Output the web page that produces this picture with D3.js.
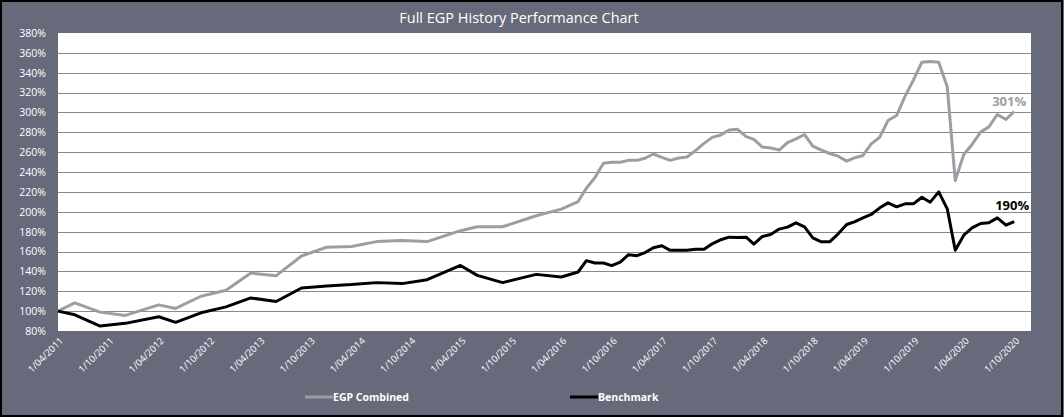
<!DOCTYPE html>
<html>
<head>
<meta charset="utf-8">
<script src="https://cdn.jsdelivr.net/npm/d3@7"></script>
<style>
  body { margin: 0; background: #676a7b; }
  svg { display: block; }
  text { font-family: "Open Sans", sans-serif; }
</style>
</head>
<body>
<div class="chart"></div>
<script>
// month of each observation (quarterly early on, monthly from mid 2016)
var dates = [
  "2011-04", "2011-06", "2011-09", "2011-12", "2012-04", "2012-06", "2012-09", "2012-12",
  "2013-03", "2013-06", "2013-09", "2013-12", "2014-03", "2014-06", "2014-09", "2014-12",
  "2015-04", "2015-06", "2015-09", "2016-01", "2016-04", "2016-06", "2016-07", "2016-08",
  "2016-09", "2016-10", "2016-11", "2016-12", "2017-01", "2017-02", "2017-03", "2017-04",
  "2017-05", "2017-06", "2017-07", "2017-08", "2017-09", "2017-10", "2017-11", "2017-12",
  "2018-01", "2018-02", "2018-03", "2018-04", "2018-05", "2018-06", "2018-07", "2018-08",
  "2018-09", "2018-10", "2018-11", "2018-12", "2019-01", "2019-02", "2019-03", "2019-04",
  "2019-05", "2019-06", "2019-07", "2019-08", "2019-09", "2019-10", "2019-11", "2019-12",
  "2020-01", "2020-02", "2020-03", "2020-04", "2020-05", "2020-06", "2020-07", "2020-08",
  "2020-09", "2020-10"
];

var egpCombined = [
  100, 108.3, 99, 95.7, 106.3, 102.7, 115, 121,
  138.3, 135.7, 155.5, 164.3, 165, 170, 171, 170,
  181, 185, 185, 196, 202.7, 210.3, 223.7, 234.4,
  248.8, 249.8, 249.8, 251.8, 251.8, 254.2, 258.2, 254.8,
  251.8, 254.2, 255.2, 261.5, 268.9, 274.9, 277.3, 282.3,
  283, 275.6, 272.9, 265.2, 264.2, 262.2, 269.6, 273.5,
  277.8, 266.1, 262.1, 258.7, 256, 251, 254.3, 256.7,
  268.4, 275.1, 291.9, 296.9, 316.4, 332.5, 350.6, 351.3,
  350.6, 325.8, 231.5, 257.7, 267.8, 280.2, 285.5, 298,
  292.9, 301
];

var benchmark = [
  100, 96.3, 85, 87.7, 94.3, 88.7, 98.3, 104.3,
  113.3, 109.7, 123.3, 125.3, 126.7, 128.7, 127.7, 131.7,
  146, 136, 128.7, 137, 134.4, 139.4, 150.8, 148.4,
  148.4, 145.8, 149.4, 156.8, 155.8, 159.2, 163.8, 165.8,
  161.2, 161.2, 161.2, 162.2, 162.2, 167.8, 171.9, 174.5,
  174.2, 174.5, 167.5, 175.2, 177.2, 182.6, 184.6, 188.9,
  184.9, 173.8, 169.8, 169.8, 177.8, 187.2, 189.9, 193.9,
  197.3, 204, 209, 205, 208, 208, 214.7, 209.7,
  220.1, 203, 161.4, 176.5, 183.8, 188.2, 188.9, 193.9,
  186.5, 190
];

var xTickLabels = [
  "1/04/2011", "1/10/2011", "1/04/2012", "1/10/2012", "1/04/2013", "1/10/2013",
  "1/04/2014", "1/10/2014", "1/04/2015", "1/10/2015", "1/04/2016", "1/10/2016",
  "1/04/2017", "1/10/2017", "1/04/2018", "1/10/2018", "1/04/2019", "1/10/2019",
  "1/04/2020", "1/10/2020"
];
var yTicks = [80, 100, 120, 140, 160, 180, 200, 220, 240, 260, 280, 300, 320, 340, 360, 380];

var width = 1064, height = 417;
var plotLeft = 58, plotRight = 1031, plotTop = 33, plotBottom = 331;

var parseMonth = d3.timeParse("%Y-%m");
var parseTick = d3.timeParse("%-d/%m/%Y");

var svg = d3.select('.chart')
            .append('svg')
            .attr('width', width)
            .attr('height', height);

// frame
svg.append('rect')
   .attr('x', 1).attr('y', 1)
   .attr('width', width - 3).attr('height', height - 2)
   .attr('fill', '#676a7b')
   .attr('stroke', '#000')
   .attr('stroke-width', 2);

svg.append('text')
   .text('Full EGP History Performance Chart')
   .attr('x', 519).attr('y', 23)
   .attr('text-anchor', 'middle')
   .attr('fill', '#fff')
   .attr('font-size', 14.5);

var x = d3.scaleTime()
          .domain([new Date(2011, 3, 1), new Date(2020, 11, 1)])
          .range([plotLeft, plotRight]);
var y = d3.scaleLinear()
          .domain([80, 380])
          .range([plotBottom, plotTop]);

svg.append('rect')
   .attr('x', plotLeft).attr('y', plotTop)
   .attr('width', plotRight - plotLeft).attr('height', plotBottom - plotTop)
   .attr('fill', '#fff');

// grid
svg.append('g')
   .selectAll('line')
   .data(yTicks.slice(1, -1))
   .enter().append('line')
   .attr('x1', plotLeft).attr('x2', plotRight)
   .attr('y1', function(d) { return Math.round(y(d)) + 0.5; })
   .attr('y2', function(d) { return Math.round(y(d)) + 0.5; })
   .attr('stroke', '#8a8a8a')
   .attr('stroke-width', 1);

// y axis labels
var yAxis = svg.append('g')
   .attr('transform', 'translate(' + (plotLeft - 9) + ',0)')
   .call(d3.axisLeft(y).tickValues(yTicks).tickSize(0).tickFormat(function(d) { return d + '%'; }));
yAxis.select('.domain').remove();
yAxis.selectAll('text')
     .attr('fill', '#fff')
     .attr('font-size', 10.5)
     .attr('font-family', '"Open Sans", sans-serif');

// x axis labels
var xAxis = svg.append('g')
   .attr('transform', 'translate(0,' + plotBottom + ')')
   .call(d3.axisBottom(x)
           .tickValues(xTickLabels.map(function(s) { return parseTick(s); }))
           .tickSize(0)
           .tickFormat(function(d, i) { return xTickLabels[i]; }));
xAxis.select('.domain').remove();
xAxis.selectAll('text')
     .attr('fill', '#fff')
     .attr('font-size', 9.5)
     .attr('font-family', '"Open Sans", sans-serif')
     .attr('text-anchor', 'end')
     .attr('x', 0).attr('y', 0).attr('dy', '0.35em')
     .attr('transform', 'translate(3,8) rotate(-45)');

var series = [
  { name: 'EGP Combined', values: egpCombined, color: '#9a9ea5', labelDx: -5, labelDy: -5 },
  { name: 'Benchmark', values: benchmark, color: '#000', labelDx: -2, labelDy: -12 }
];

var line = d3.line()
             .x(function(d, i) { return x(parseMonth(dates[i])); })
             .y(function(d) { return y(d); });

series.forEach(function(s) {
  svg.append('path')
     .attr('d', line(s.values))
     .attr('fill', 'none')
     .attr('stroke', s.color)
     .attr('stroke-width', 3)
     .attr('stroke-linejoin', 'round');

  var last = s.values.length - 1;
  svg.append('text')
     .text(Math.round(s.values[last]) + '%')
     .attr('x', x(parseMonth(dates[last])) + s.labelDx)
     .attr('y', y(s.values[last]) + s.labelDy)
     .attr('text-anchor', 'middle')
     .attr('fill', s.color)
     .attr('font-weight', 'bold')
     .attr('font-size', 13)
     .attr('font-family', '"Open Sans", sans-serif');
});

// legend
var legend = svg.append('g')
   .selectAll('g')
   .data(series)
   .enter().append('g')
   .attr('transform', function(d, i) { return 'translate(' + (305 + i * 265) + ',397)'; });
legend.append('line')
      .attr('x1', 0).attr('x2', 28)
      .attr('stroke', function(d) { return d.color; })
      .attr('stroke-width', 3);
legend.append('text')
      .text(function(d) { return d.name; })
      .attr('x', 28).attr('dy', '0.35em')
      .attr('fill', '#fff')
      .attr('font-weight', 'bold')
      .attr('font-size', 10.5)
      .attr('font-family', '"Open Sans", sans-serif');
</script>
</body>
</html>
